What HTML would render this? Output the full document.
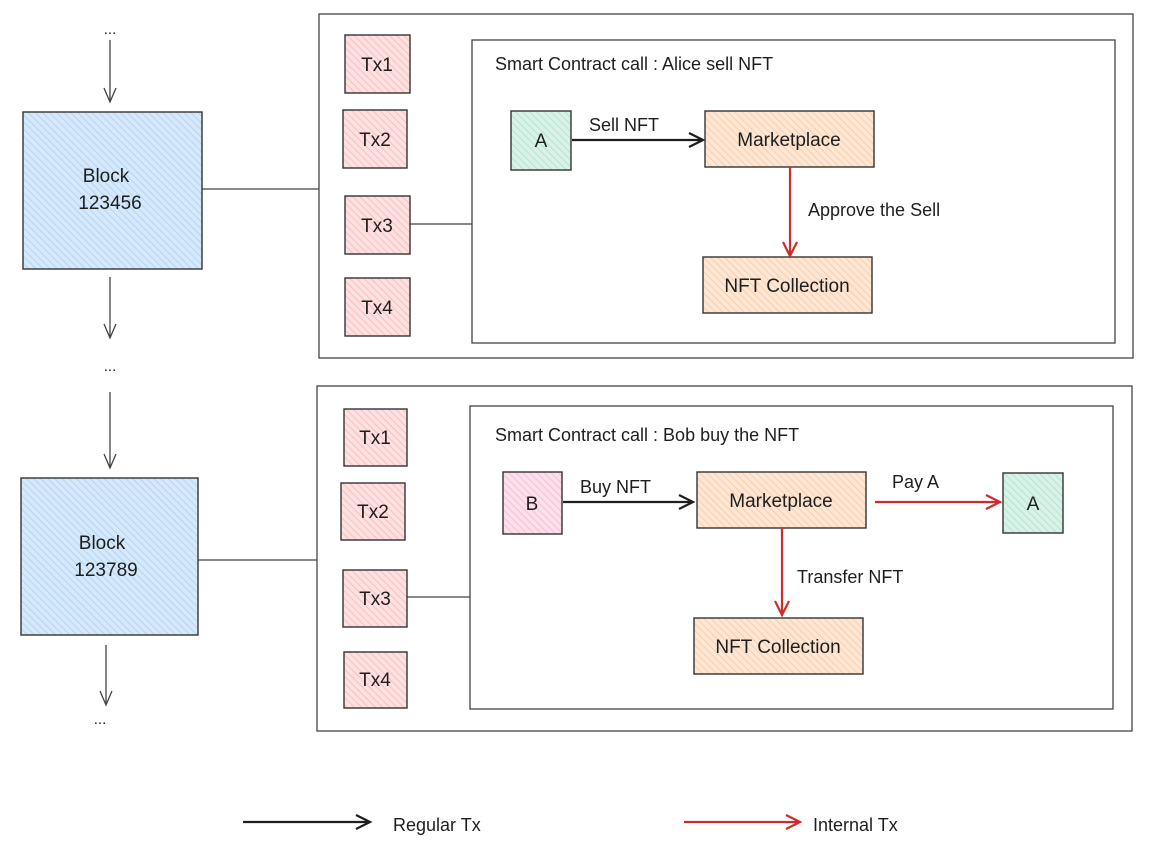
<!DOCTYPE html>
<html><head><meta charset="utf-8"><style>
html,body{margin:0;padding:0;background:#fff;}
svg text{font-family:"Liberation Sans",sans-serif;fill:#1e1e1e;}
</style></head><body>
<svg width="1158" height="848" viewBox="0 0 1158 848" xmlns="http://www.w3.org/2000/svg">
<defs>
<pattern id="hb" width="5" height="5" patternUnits="userSpaceOnUse" patternTransform="rotate(-45)"><rect width="5" height="5" fill="#d6e8fa"/><line x1="0" y1="0" x2="0" y2="5" stroke="#a5d0f5" stroke-width="1.5"/></pattern>
<pattern id="hr" width="5" height="5" patternUnits="userSpaceOnUse" patternTransform="rotate(-45)"><rect width="5" height="5" fill="#fde0e0"/><line x1="0" y1="0" x2="0" y2="5" stroke="#f7b6b6" stroke-width="1.5"/></pattern>
<pattern id="ho" width="5" height="5" patternUnits="userSpaceOnUse" patternTransform="rotate(-45)"><rect width="5" height="5" fill="#fde6d4"/><line x1="0" y1="0" x2="0" y2="5" stroke="#f8c8a0" stroke-width="1.5"/></pattern>
<pattern id="hg" width="5" height="5" patternUnits="userSpaceOnUse" patternTransform="rotate(-45)"><rect width="5" height="5" fill="#d9f2e8"/><line x1="0" y1="0" x2="0" y2="5" stroke="#a8dfc6" stroke-width="1.5"/></pattern>
<pattern id="hp" width="5" height="5" patternUnits="userSpaceOnUse" patternTransform="rotate(-45)"><rect width="5" height="5" fill="#fbe0ec"/><line x1="0" y1="0" x2="0" y2="5" stroke="#f5b4cf" stroke-width="1.5"/></pattern>
</defs>
<g stroke="#444" stroke-width="1.3" fill="none">
<!-- left chain arrows -->
<path d="M110 40 V102 M104 88 L110 102 L116 88"/>
<path d="M110 277 V338 M104 324 L110 338 L116 324"/>
<path d="M110 392 V468 M104 454 L110 468 L116 454"/>
<path d="M106 645 V705 M100 691 L106 705 L112 691"/>
<!-- frames -->
<rect x="319" y="14" width="814" height="344"/>
<rect x="472" y="40" width="643" height="303"/>
<rect x="317" y="386" width="815" height="345"/>
<rect x="470" y="406" width="643" height="303"/>
<path d="M202 189 H319 M410 224 H472 M198 560 H317 M407 597 H470"/>
</g>
<g font-size="15" text-anchor="middle">
<text x="110" y="34">...</text><text x="110" y="371">...</text><text x="100" y="724">...</text>
</g>
<g stroke="#333" stroke-width="1.4">
<rect x="23" y="112" width="179" height="157" fill="url(#hb)"/>
<rect x="21" y="478" width="177" height="157" fill="url(#hb)"/>
<rect x="345" y="35" width="65" height="58" fill="url(#hr)"/>
<rect x="343" y="110" width="64" height="58" fill="url(#hr)"/>
<rect x="345" y="196" width="65" height="58" fill="url(#hr)"/>
<rect x="345" y="278" width="65" height="58" fill="url(#hr)"/>
<rect x="344" y="409" width="63" height="57" fill="url(#hr)"/>
<rect x="341" y="483" width="64" height="57" fill="url(#hr)"/>
<rect x="343" y="570" width="64" height="57" fill="url(#hr)"/>
<rect x="344" y="652" width="63" height="56" fill="url(#hr)"/>
<rect x="511" y="111" width="60" height="59" fill="url(#hg)"/>
<rect x="705" y="111" width="169" height="56" fill="url(#ho)"/>
<rect x="703" y="257" width="169" height="56" fill="url(#ho)"/>
<rect x="503" y="472" width="59" height="62" fill="url(#hp)"/>
<rect x="697" y="472" width="169" height="56" fill="url(#ho)"/>
<rect x="1003" y="473" width="60" height="60" fill="url(#hg)"/>
<rect x="694" y="618" width="169" height="56" fill="url(#ho)"/>
</g>
<g font-size="19" text-anchor="middle">
<text x="106" y="182">Block</text><text x="110" y="209">123456</text>
<text x="102" y="549">Block</text><text x="106" y="576">123789</text>
<text x="377" y="71">Tx1</text><text x="375" y="146">Tx2</text><text x="377" y="232">Tx3</text><text x="377" y="314">Tx4</text>
<text x="375" y="444">Tx1</text><text x="373" y="518">Tx2</text><text x="375" y="605">Tx3</text><text x="375" y="686">Tx4</text>
<text x="541" y="147">A</text><text x="789" y="146">Marketplace</text><text x="787" y="292">NFT Collection</text>
<text x="532" y="510">B</text><text x="781" y="507">Marketplace</text><text x="1033" y="510">A</text><text x="778" y="653">NFT Collection</text>
</g>
<g font-size="18">
<text x="495" y="70">Smart Contract call : Alice sell NFT</text>
<text x="495" y="441">Smart Contract call : Bob buy the NFT</text>
<text x="589" y="131">Sell NFT</text>
<text x="808" y="216">Approve the Sell</text>
<text x="580" y="493">Buy NFT</text>
<text x="892" y="488">Pay A</text>
<text x="797" y="583">Transfer NFT</text>
<text x="393" y="831">Regular Tx</text>
<text x="813" y="831">Internal Tx</text>
</g>
<g fill="none" stroke-width="2.2">
<path d="M572 140 H703 M689 133 L703 140 L689 147" stroke="#1e1e1e"/>
<path d="M563 502 H693 M679 495 L693 502 L679 509" stroke="#1e1e1e"/>
<path d="M243 822 H370 M356 815 L370 822 L356 829" stroke="#1e1e1e"/>
<path d="M790 167 V256 M783 242 L790 256 L797 242" stroke="#d02b2b"/>
<path d="M875 502 H1000 M986 495 L1000 502 L986 509" stroke="#d02b2b"/>
<path d="M782 528 V615 M775 601 L782 615 L789 601" stroke="#d02b2b"/>
<path d="M684 822 H800 M786 815 L800 822 L786 829" stroke="#d02b2b"/>
</g>
</svg>
</body></html>
